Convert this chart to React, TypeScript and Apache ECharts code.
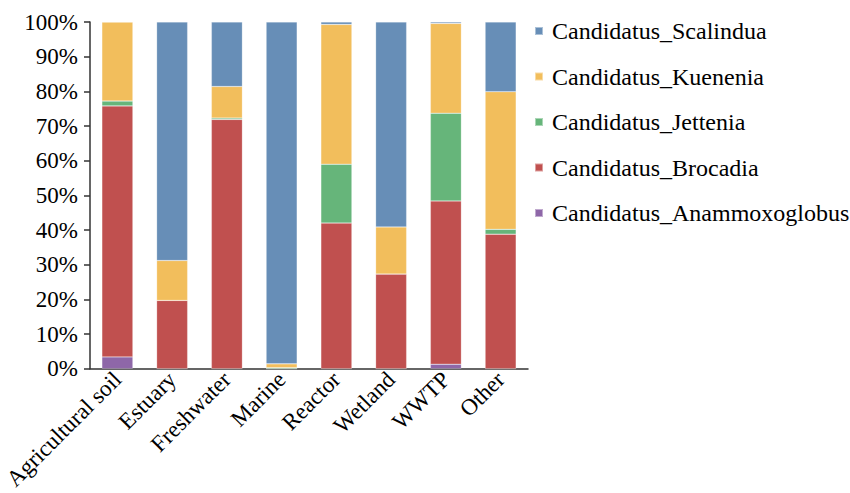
import React, { useEffect, useRef } from "react";
import * as echarts from "echarts";

// Habitat categories along the x axis
const categories = [
  "Agricultural soil",
  "Estuary",
  "Freshwater",
  "Marine",
  "Reactor",
  "Wetland",
  "WWTP",
  "Other",
];

// Relative abundance (%) of each anammox genus per habitat, bottom to top of the stack
const anammoxoglobus = [3.4, 0, 0, 0, 0, 0, 1.3, 0];
const brocadia = [72.4, 19.7, 71.9, 0, 42.0, 27.3, 47.1, 38.8];
const jettenia = [1.4, 0, 0.4, 0.3, 17.0, 0, 25.3, 1.4];
const kuenenia = [22.8, 11.5, 9.1, 1.1, 40.3, 13.6, 25.9, 39.7];
const scalindua = [0, 68.8, 18.6, 98.6, 0.7, 59.1, 0.4, 20.1];

const yTicks = [0, 10, 20, 30, 40, 50, 60, 70, 80, 90, 100];

const seriesDefs = [
  { name: "Candidatus_Anammoxoglobus", data: anammoxoglobus, color: "#8E67A8" },
  { name: "Candidatus_Brocadia", data: brocadia, color: "#C0504F" },
  { name: "Candidatus_Jettenia", data: jettenia, color: "#66B57A" },
  { name: "Candidatus_Kuenenia", data: kuenenia, color: "#F2BE5C" },
  { name: "Candidatus_Scalindua", data: scalindua, color: "#678EB7" },
];

const FONT = "Liberation Serif";

export default function App() {
  const ref = useRef<HTMLDivElement>(null);

  useEffect(() => {
    if (!ref.current) return;
    const chart = echarts.init(ref.current, undefined, { renderer: "svg" });
    chart.setOption({
      animation: false,
      backgroundColor: "#ffffff",
      textStyle: { fontFamily: FONT },
      grid: { left: 90, top: 22, width: 438, height: 349, containLabel: false },
      legend: {
        orient: "vertical",
        left: 529,
        top: 14,
        icon: "rect",
        itemWidth: 8,
        itemHeight: 8,
        itemGap: 21.5,
        data: [...seriesDefs].reverse().map((s) => s.name),
        textStyle: {
          fontFamily: FONT,
          fontSize: 24,
          lineHeight: 24,
          color: "#000",
          padding: [0, 0, 0, 4],
        },
      },
      xAxis: {
        type: "category",
        data: categories,
        axisLine: { lineStyle: { color: "#333333", width: 1.5 } },
        axisTick: { show: false },
        axisLabel: {
          rotate: 45,
          interval: 0,
          margin: 7,
          fontFamily: FONT,
          fontSize: 23,
          color: "#000",
        },
      },
      yAxis: {
        type: "value",
        min: 0,
        max: 100,
        interval: 10,
        splitLine: { show: false },
        axisLine: { show: true, lineStyle: { color: "#333333", width: 1.5 } },
        axisTick: { show: true, length: 6, lineStyle: { color: "#333333", width: 1.5 } },
        axisLabel: {
          margin: 12,
          fontFamily: FONT,
          fontSize: 23,
          color: "#000",
          formatter: (v: number) => (yTicks.includes(v) ? `${v}%` : ""),
        },
      },
      series: seriesDefs.map((s) => ({
        name: s.name,
        type: "bar",
        stack: "total",
        barWidth: 31,
        data: s.data,
        itemStyle: { color: s.color, borderColor: "rgba(255,255,255,0.45)", borderWidth: 0.5 },
      })),
    });
    return () => chart.dispose();
  }, []);

  return (
    <div
      ref={ref}
      style={{ position: "fixed", left: 0, top: 0, width: 850, height: 493, overflow: "hidden" }}
    />
  );
}
